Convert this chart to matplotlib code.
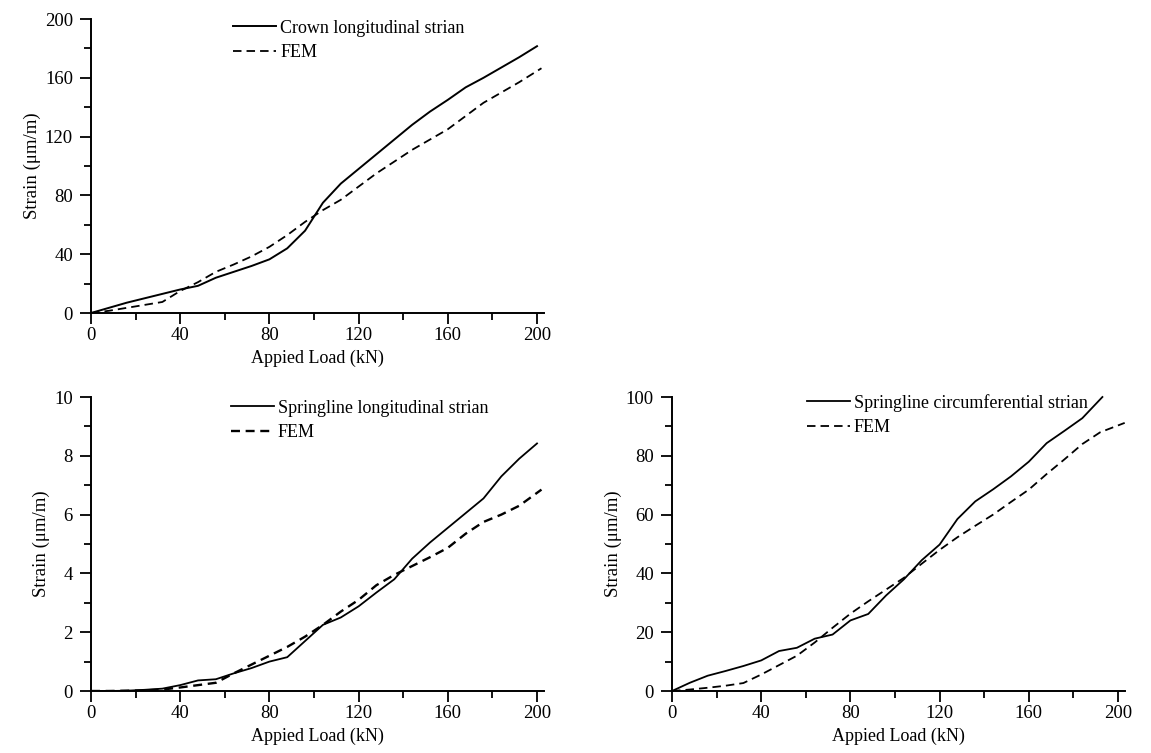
import matplotlib
matplotlib.use('Agg')
import matplotlib.pyplot as plt
from matplotlib.ticker import MultipleLocator

plt.rcParams['font.family'] = ['Liberation Serif', 'DejaVu Serif']
plt.rcParams['font.size'] = 13

# ── data ──
load = [0, 8, 16, 24, 32, 40, 48, 56, 64, 72, 80, 88, 96, 104, 112, 120, 128,
        136, 144, 152, 160, 168, 176, 184, 192, 200]

crown_test = [0, 3.5, 7, 10, 13, 16, 18.5, 24, 28, 32, 36.5, 44, 56, 75, 88, 98,
              108, 118, 128, 137, 145, 153.5, 160, 167, 174, 181.5]
crown_fem_x = [0, 8, 16, 24, 32, 40, 48, 56, 64, 72, 80, 88, 96, 104, 112, 120,
               128, 136, 144, 152, 160, 168, 176, 184, 192, 202]
crown_fem = [0, 1.5, 3.5, 5.5, 7.5, 15, 21, 28, 33, 38.5, 45, 53, 62, 70, 77, 86,
             95, 103, 111, 118, 125, 134, 143, 150, 157, 166.5]

long_test = [0, 0, 0.01, 0.04, 0.08, 0.2, 0.36, 0.4, 0.6, 0.78, 1.0, 1.15, 1.7,
             2.25, 2.5, 2.88, 3.35, 3.8, 4.5, 5.05, 5.55, 6.05, 6.55, 7.3, 7.9, 8.42]
long_fem_x = crown_fem_x
long_fem = [0, 0, 0.01, 0.02, 0.05, 0.12, 0.2, 0.28, 0.6, 0.9, 1.2, 1.5, 1.85,
            2.25, 2.7, 3.1, 3.6, 3.95, 4.25, 4.55, 4.87, 5.35, 5.75, 6.0, 6.3, 6.85]

circ_x = [0, 8, 16, 24, 32, 40, 48, 56, 64, 72, 80, 88, 96, 104, 112, 120, 128,
          136, 144, 152, 160, 168, 176, 184, 193]
circ_test = [0, 2.8, 5.2, 6.8, 8.5, 10.4, 13.6, 14.7, 17.8, 19.2, 24, 26.2, 32.5,
             38, 44.5, 49.8, 58.5, 64.5, 68.6, 73, 78, 84.3, 88.5, 92.8, 100]
circ_fem_x = [0, 8, 16, 24, 32, 40, 48, 56, 64, 72, 80, 88, 96, 104, 112, 120,
              128, 136, 144, 152, 160, 168, 176, 184, 192, 203]
circ_fem = [0, 0.5, 1.1, 1.8, 2.7, 5.6, 8.8, 12, 16.5, 21.5, 26.3, 30.5, 34.5,
            38.5, 43.3, 48, 52.3, 56.2, 60, 64.3, 68.5, 73.8, 78.8, 84, 88, 91.2]

W, H = 1151, 753
DASH = (0, (4.7, 2.8))
fig = plt.figure(figsize=(W / 100, H / 100), dpi=100)


def make_ax(x0, y_bot, y_top):
    return fig.add_axes([x0 / W, 1 - y_bot / H, 452.7 / W, (y_bot - y_top) / H])


def style(ax, ymax, ymajor, yminor):
    ax.set_xlim(0, 203)
    ax.set_ylim(0, ymax)
    ax.spines['top'].set_visible(False)
    ax.spines['right'].set_visible(False)
    for s in ('left', 'bottom'):
        ax.spines[s].set_linewidth(1.4)
    ax.xaxis.set_major_locator(MultipleLocator(40))
    ax.xaxis.set_minor_locator(MultipleLocator(20))
    ax.yaxis.set_major_locator(MultipleLocator(ymajor))
    ax.yaxis.set_minor_locator(MultipleLocator(yminor))
    ax.tick_params(which='both', direction='out', width=1.3, labelsize=13.5)
    ax.tick_params(which='major', length=8)
    ax.tick_params(which='minor', length=5)
    ax.tick_params(axis='x', pad=2)
    ax.tick_params(axis='y', pad=5)
    ax.set_xlabel('Appied Load (kN)', fontsize=13, labelpad=4)
    ax.set_ylabel('Strain (μm/m)', fontsize=13.5, labelpad=3)


def legend(ax, x, y):
    ax.legend(loc='upper left', bbox_to_anchor=(x, y), frameon=False,
              handlelength=2.4, handletextpad=0.2, labelspacing=0.42,
              borderpad=0, borderaxespad=0, fontsize=13)


ax1 = make_ax(91, 313, 19)
ax1.plot(load, crown_test, color='black', lw=1.4, label='Crown longitudinal strian')
ax1.plot(crown_fem_x, crown_fem, color='black', lw=1.3, ls=DASH, label='FEM')
style(ax1, 200, 40, 20)
legend(ax1, 0.314, 0.998)

ax2 = make_ax(91, 691, 397)
ax2.plot(load, long_test, color='black', lw=1.3, label='Springline longitudinal strian')
ax2.plot(long_fem_x, long_fem, color='black', lw=1.7, ls=(0, (3.8, 2.4)), label='FEM')
style(ax2, 10, 2, 1)
legend(ax2, 0.309, 0.991)

ax3 = make_ax(672, 691, 397)
ax3.plot(circ_x, circ_test, color='black', lw=1.3,
         label='Springline circumferential strian', clip_on=False)
ax3.plot(circ_fem_x, circ_fem, color='black', lw=1.3, ls=DASH, label='FEM')
style(ax3, 100, 20, 10)
legend(ax3, 0.298, 1.011)

fig.savefig('out.png', dpi=100, facecolor='white')
